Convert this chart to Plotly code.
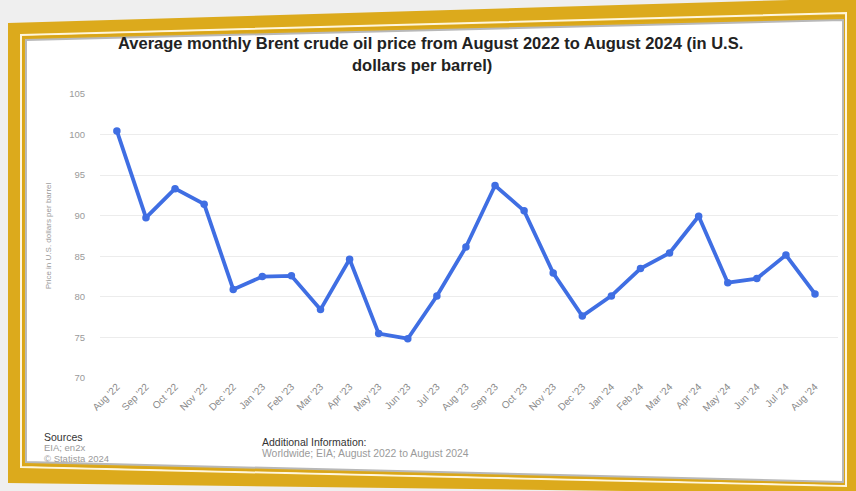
import plotly.graph_objects as go

months = ["Aug '22", "Sep '22", "Oct '22", "Nov '22", "Dec '22", "Jan '23", "Feb '23",
          "Mar '23", "Apr '23", "May '23", "Jun '23", "Jul '23", "Aug '23", "Sep '23",
          "Oct '23", "Nov '23", "Dec '23", "Jan '24", "Feb '24", "Mar '24", "Apr '24",
          "May '24", "Jun '24", "Jul '24", "Aug '24"]
prices = [100.45, 89.76, 93.33, 91.42, 80.92, 82.50, 82.59, 78.43, 84.64, 75.47, 74.84,
          80.11, 86.15, 93.72, 90.60, 82.94, 77.63, 80.12, 83.48, 85.41, 89.94, 81.75,
          82.25, 85.15, 80.36]
y_ticks = [70, 75, 80, 85, 90, 95, 100, 105]
title_lines = ["Average monthly Brent crude oil price from August 2022 to August 2024 (in U.S.",
               "dollars per barrel)"]

W, H = 856, 491
L, R, T, B = 100, 18, 94, 113
PW, PH = W - L - R, H - T - B


def px(x):
    return (x - L) / PW


def py(y):
    return (T + PH - y) / PH


def quad(pts):
    return "M " + " L ".join(f"{px(a):.5f},{py(b):.5f}" for a, b in pts) + " Z"


fig = go.Figure()
fig.add_trace(go.Scatter(
    x=months, y=prices, mode="lines+markers",
    line=dict(color="#3f6ee3", width=3.8),
    marker=dict(color="#3f6ee3", size=7.5),
    hoverinfo="skip", showlegend=False,
))

outer = [(8, 23), (858, -2), (858, 494), (8, 483)]
stripe = [(21, 35), (846, 13), (846, 486), (21, 467)]
inner_gold = [(23, 37), (844, 16), (844, 484), (23, 465)]
inner = [(26, 40), (843, 20), (843, 482), (26, 462)]

shapes = [
    dict(type="path", xref="paper", yref="paper", path=quad(outer),
         fillcolor="#dcaa1c", line=dict(width=0), layer="below"),
    dict(type="path", xref="paper", yref="paper", path=quad(stripe),
         fillcolor="rgba(0,0,0,0)", line=dict(color="#fff6dc", width=2), layer="below"),
    dict(type="path", xref="paper", yref="paper", path=quad(inner_gold),
         fillcolor="rgba(0,0,0,0)", line=dict(color="#d9a518", width=1.5), layer="below"),
    dict(type="path", xref="paper", yref="paper", path=quad(inner),
         fillcolor="#ffffff", line=dict(color="#b8b8b8", width=2), layer="below"),
]

FF = "Liberation Sans, Arial"
annotations = [
    dict(text="<b>" + title_lines[0] + "</b>", x=px(430), y=py(43), xref="paper", yref="paper",
         xanchor="center", yanchor="middle", showarrow=False,
         font=dict(size=16.5, color="#222222", family=FF)),
    dict(text="<b>" + title_lines[1] + "</b>", x=px(422), y=py(65), xref="paper", yref="paper",
         xanchor="center", yanchor="middle", showarrow=False,
         font=dict(size=16.5, color="#222222", family=FF)),
    dict(text="Sources", x=px(42), y=py(437), xref="paper", yref="paper",
         xanchor="left", yanchor="middle", showarrow=False,
         font=dict(size=10.5, color="#333333", family=FF)),
    dict(text="EIA; en2x", x=px(42), y=py(448), xref="paper", yref="paper",
         xanchor="left", yanchor="middle", showarrow=False,
         font=dict(size=9.5, color="#9a9a9a", family=FF)),
    dict(text="© Statista 2024", x=px(42), y=py(458), xref="paper", yref="paper",
         xanchor="left", yanchor="middle", showarrow=False,
         font=dict(size=9.5, color="#9a9a9a", family=FF)),
    dict(text="Additional Information:", x=px(260), y=py(442), xref="paper", yref="paper",
         xanchor="left", yanchor="middle", showarrow=False,
         font=dict(size=10.5, color="#333333", family=FF)),
    dict(text="Worldwide; EIA; August 2022 to August 2024", x=px(260), y=py(453),
         xref="paper", yref="paper", xanchor="left", yanchor="middle", showarrow=False,
         font=dict(size=10.4, color="#9a9a9a", family=FF)),
]

fig.update_layout(
    width=W, height=H,
    margin=dict(l=L, r=R, t=T, b=B),
    paper_bgcolor="#efefef",
    plot_bgcolor="rgba(0,0,0,0)",
    font=dict(family="Liberation Sans, Arial, sans-serif"),
    xaxis=dict(
        type="category", range=[-0.58, 24.79],
        tickangle=-45, showgrid=False, showline=False, zeroline=False,
        tickfont=dict(size=10, color="#8a8a8a"), ticks="",
    ),
    yaxis=dict(
        range=[70, 105], tickvals=y_ticks, showgrid=True, gridcolor="#ececec",
        gridwidth=1, zeroline=False, showline=False,
        tickfont=dict(size=9.5, color="#9a9a9a"), ticklabelstandoff=14,
        title=dict(text="Price in U.S. dollars per barrel", standoff=16,
                   font=dict(size=8, color="#9a9a9a")),
    ),
    shapes=shapes,
    annotations=annotations,
)

fig.write_html("out.html", config={"displayModeBar": False},
               post_script="document.body.style.margin='0px';document.body.style.padding='0px';")
